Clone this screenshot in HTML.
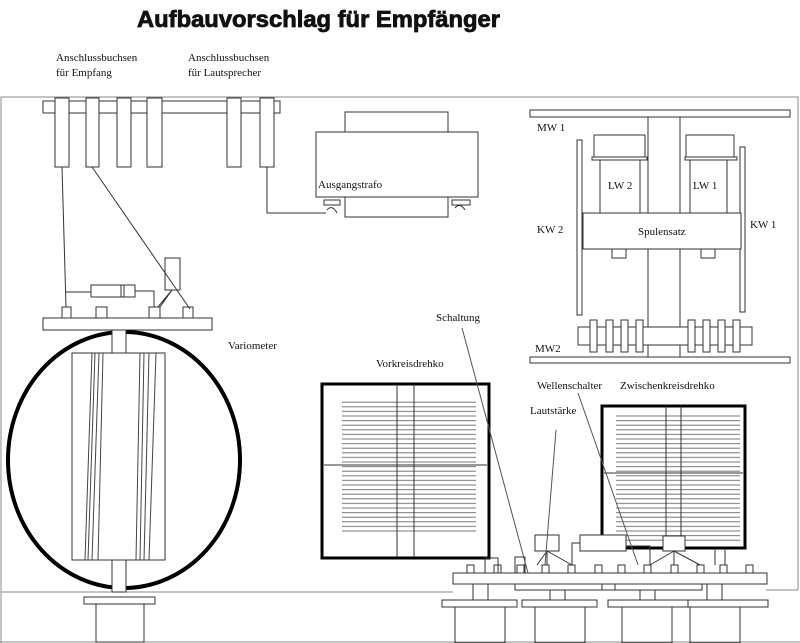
<!DOCTYPE html>
<html><head><meta charset="utf-8"><style>
html,body{margin:0;padding:0;background:#fff;width:800px;height:643px;overflow:hidden}
svg{display:block}
text{font-family:"Liberation Serif",serif;font-size:11px;fill:#111}
</style></head><body>
<svg width="800" height="643" viewBox="0 0 800 643" xmlns="http://www.w3.org/2000/svg">
<defs>
<pattern id="pl" x="0" y="0" width="10" height="4.6" patternUnits="userSpaceOnUse">
<line x1="0" y1="2" x2="10" y2="2" stroke="#777" stroke-width="1"/>
</pattern>
</defs>
<text x="137" y="27" style="font-family:'Liberation Sans',sans-serif;font-weight:bold;font-size:23px;stroke:#111;stroke-width:0.8" textLength="363" lengthAdjust="spacingAndGlyphs">Aufbauvorschlag für Empfänger</text>
<text x="56" y="61" font-size="10">Anschlussbuchsen</text>
<text x="56" y="76" font-size="10">für Empfang</text>
<text x="188" y="61" font-size="10">Anschlussbuchsen</text>
<text x="188" y="76" font-size="10">für Lautsprecher</text>

<g fill="none" stroke="#333" stroke-width="1">
<polyline points="1,643 1,97 798,97 798,590" stroke="#888"/>
<line x1="1" y1="592" x2="453" y2="592" stroke="#888"/>
<line x1="766" y1="590" x2="798" y2="590" stroke="#888"/>
<line x1="0" y1="642" x2="800" y2="642" stroke="#888"/>

<rect x="43" y="101" width="237" height="12" fill="#fff"/>
<g fill="#fff">
<rect x="55" y="98" width="14" height="69"/><rect x="86" y="98" width="13" height="69"/>
<rect x="117" y="98" width="14" height="69"/><rect x="147" y="98" width="15" height="69"/>
<rect x="227" y="98" width="14" height="69"/><rect x="260" y="98" width="14" height="69"/>
</g>
<rect x="345" y="112" width="103" height="20"/>
<rect x="316" y="132" width="162" height="65"/>
<rect x="345" y="197" width="103" height="20"/>
<rect x="324" y="200" width="16" height="5"/><rect x="452" y="200" width="18" height="5"/>
<polyline points="267,167 267,213 326,213"/>
<path d="M327,210 q5,-6 10,3 M455,208 q5,-6 10,2"/>

<line x1="62" y1="167" x2="66" y2="307"/>
<line x1="92" y1="167" x2="190" y2="309"/>
<polyline points="66,292 91,292"/><polyline points="135,291 154,291 154,307"/>
<rect x="91" y="285" width="44" height="12"/><line x1="121" y1="285" x2="121" y2="297"/><line x1="124" y1="285" x2="124" y2="297"/>
<rect x="165" y="258" width="15" height="32"/>
<path d="M172,290 L160,307 M172,290 L158,307"/>
<rect x="43" y="318" width="169" height="12"/>
<rect x="62" y="307" width="9" height="11"/><rect x="96" y="307" width="11" height="11"/>
<rect x="149" y="307" width="11" height="11"/><rect x="183" y="307" width="10" height="11"/>

<ellipse cx="124" cy="460" rx="116" ry="128" stroke="#000" stroke-width="4"/>
<rect x="112" y="330" width="14" height="262" fill="#fff"/>
<rect x="72" y="353" width="93" height="207" fill="#fff"/>
<path d="M85,560 L92,353 M88,560 L95,353 M92,560 L99,353 M98,560 L103,353 M136,560 L140,353 M140,560 L144,353 M144,560 L149,353 M149,560 L156,353" stroke="#444"/>
<rect x="84" y="597" width="71" height="7"/>
<rect x="96" y="604" width="48" height="38"/>

<rect x="342" y="399" width="134" height="133" fill="url(#pl)" stroke="none"/>
<rect x="322" y="384" width="167" height="174" stroke="#000" stroke-width="3"/>
<line x1="324" y1="465" x2="487" y2="465"/>
<line x1="397" y1="384" x2="397" y2="557"/><line x1="414" y1="384" x2="414" y2="557"/>

<rect x="616" y="413" width="124" height="130" fill="url(#pl)" stroke="none"/>
<rect x="602" y="406" width="143" height="142" stroke="#000" stroke-width="3"/>
<line x1="604" y1="473" x2="743" y2="473"/>
<line x1="666" y1="406" x2="666" y2="547"/><line x1="681" y1="406" x2="681" y2="547"/>

<rect x="530" y="110" width="260" height="7"/>
<rect x="530" y="357" width="260" height="6"/>
<line x1="648" y1="117" x2="648" y2="357"/><line x1="680" y1="117" x2="680" y2="357"/>
<rect x="577" y="140" width="5" height="175"/><rect x="740" y="147" width="5" height="165"/>
<rect x="594" y="135" width="51" height="22"/><rect x="686" y="135" width="48" height="22"/>
<rect x="592" y="157" width="55" height="3"/><rect x="685" y="157" width="52" height="3"/>
<rect x="600" y="160" width="40" height="53"/><rect x="690" y="160" width="37" height="53"/>
<rect x="583" y="213" width="158" height="36" fill="#fff"/>
<rect x="612" y="249" width="14" height="9"/><rect x="701" y="249" width="14" height="9"/>
<rect x="578" y="327" width="174" height="18" fill="#fff"/>
<g fill="#fff">
<rect x="590" y="320" width="7" height="32"/><rect x="606" y="320" width="7" height="32"/>
<rect x="621" y="320" width="7" height="32"/><rect x="636" y="320" width="7" height="32"/>
<rect x="688" y="320" width="7" height="32"/><rect x="703" y="320" width="7" height="32"/>
<rect x="718" y="320" width="7" height="32"/><rect x="733" y="320" width="7" height="32"/>
</g>

<rect x="535" y="535" width="24" height="16" fill="#fff"/>
<rect x="580" y="535" width="46" height="16" fill="#fff"/>
<rect x="663" y="536" width="22" height="15" fill="#fff"/>
<polyline points="580,543 572,543 572,565"/>
<polyline points="626,546 650,546 650,565"/>
<path d="M547,551 L537,565 M547,551 L572,565 M674,551 L650,565 M674,551 L700,565"/>
<line x1="547" y1="551" x2="547" y2="565"/><line x1="674" y1="551" x2="674" y2="565"/>
<line x1="715" y1="548" x2="715" y2="565"/><line x1="725" y1="548" x2="725" y2="565"/>
<rect x="485" y="558" width="13" height="15"/>
<rect x="515" y="557" width="10" height="16"/>
<g>
<rect x="467" y="565" width="7" height="8"/><rect x="494" y="565" width="7" height="8"/>
<rect x="517" y="565" width="7" height="8"/><rect x="542" y="565" width="7" height="8"/>
<rect x="568" y="565" width="7" height="8"/><rect x="595" y="565" width="7" height="8"/>
<rect x="618" y="565" width="7" height="8"/><rect x="644" y="565" width="7" height="8"/>
<rect x="671" y="565" width="7" height="8"/><rect x="697" y="565" width="7" height="8"/>
<rect x="720" y="565" width="7" height="8"/><rect x="746" y="565" width="7" height="8"/>
</g>
<rect x="453" y="573" width="314" height="11" fill="#fff"/>
<rect x="515" y="584" width="100" height="6"/><rect x="602" y="584" width="100" height="6"/>
<line x1="473" y1="584" x2="473" y2="600"/><line x1="488" y1="584" x2="488" y2="600"/>
<line x1="550" y1="590" x2="550" y2="600"/><line x1="565" y1="590" x2="565" y2="600"/>
<line x1="640" y1="590" x2="640" y2="600"/><line x1="655" y1="590" x2="655" y2="600"/>
<line x1="707" y1="584" x2="707" y2="600"/><line x1="722" y1="584" x2="722" y2="600"/>
<rect x="442" y="600" width="75" height="7"/><rect x="522" y="600" width="75" height="7"/>
<rect x="608" y="600" width="80" height="7"/><rect x="688" y="600" width="80" height="7"/>
<rect x="455" y="607" width="50" height="36"/><rect x="535" y="607" width="50" height="36"/>
<rect x="622" y="607" width="50" height="36"/><rect x="690" y="607" width="50" height="36"/>

<line x1="462" y1="328" x2="528" y2="573" stroke="#555"/>
<line x1="556" y1="430" x2="545" y2="565" stroke="#555"/>
<line x1="578" y1="393" x2="638" y2="565" stroke="#555"/>
</g>

<text x="318" y="188">Ausgangstrafo</text>
<text x="608" y="189">LW 2</text>
<text x="693" y="189">LW 1</text>
<text x="638" y="235">Spulensatz</text>
<text x="537" y="233">KW 2</text>
<text x="750" y="228">KW 1</text>
<text x="537" y="131">MW 1</text>
<text x="535" y="352">MW2</text>
<text x="228" y="349">Variometer</text>
<text x="436" y="321">Schaltung</text>
<text x="376" y="367">Vorkreisdrehko</text>
<text x="537" y="389">Wellenschalter</text>
<text x="620" y="389">Zwischenkreisdrehko</text>
<text x="530" y="414">Lautstärke</text>
</svg>
</body></html>
